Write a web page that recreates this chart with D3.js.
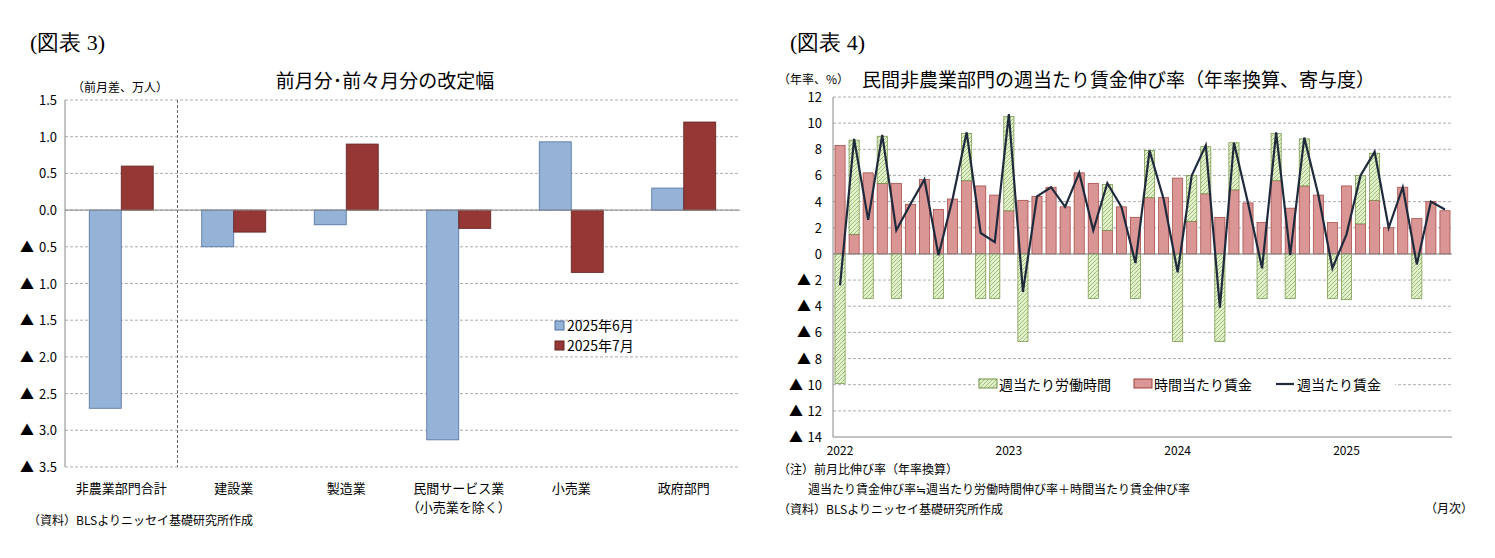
<!DOCTYPE html>
<html><head><meta charset="utf-8">
<script src="https://cdn.jsdelivr.net/npm/d3@7/dist/d3.min.js"></script>
<style>body{margin:0;background:#fff;font-family:"Noto Sans CJK JP",sans-serif}</style>
</head><body><svg id="c" width="1495" height="558"></svg>
<script>
// Left chart data
const leftCats = ["非農業部門合計","建設業","製造業","民間サービス業","小売業","政府部門"];
const leftCats2 = ["","","","（小売業を除く）","",""];
const june = [-2.7,-0.5,-0.2,-3.13,0.93,0.3];
const july = [0.6,-0.3,0.9,-0.25,-0.85,1.2];
const leftTicks = [1.5,1.0,0.5,0.0,-0.5,-1.0,-1.5,-2.0,-2.5,-3.0,-3.5];
// Right chart data (Jan 2022 - Aug 2025)
const months = d3.range(44);
const hourly = [8.3,1.5,6.2,5.4,5.4,3.8,5.7,3.4,4.2,5.6,5.2,4.5,
 3.3,4.1,4.4,5.1,3.6,6.2,5.4,1.8,3.6,2.8,4.3,4.3,
 5.8,2.5,4.6,2.8,4.9,3.9,2.4,5.6,3.5,5.2,4.5,2.4,
 5.2,2.3,4.1,2.0,5.1,2.7,4.0,3.3];
const hours = [-9.9,7.2,-3.4,3.6,-3.4,0,0,-3.4,0,3.6,-3.4,-3.4,
 7.2,-6.7,0,0,0,0,-3.4,3.5,0,-3.4,3.6,0,
 -6.7,3.5,3.6,-6.7,3.6,0,-3.4,3.6,-3.4,3.6,0,-3.4,
 -3.5,3.7,3.6,0,0,-3.4,0,0];
const weekly = [-2.4,8.8,2.6,9.1,1.8,3.8,5.7,-0.1,4.2,9.3,1.6,0.9,
 10.7,-2.9,4.4,5.1,3.6,6.2,1.8,5.4,3.6,-0.7,7.9,4.2,
 -1.4,6.0,8.3,-4.1,8.5,3.9,-1.1,9.3,-0.1,8.9,4.5,-1.1,
 1.5,6.0,7.8,2.0,5.1,-0.8,4.0,3.4];
const yearLabels = [{i:0,t:"2022"},{i:12,t:"2023"},{i:24,t:"2024"},{i:36,t:"2025"}];
const rightTicks = [12,10,8,6,4,2,0,-2,-4,-6,-8,-10,-12,-14];

const svg = d3.select("#c");
const F = "Noto Sans CJK JP";
function txt(x,y,t,o={}){return svg.append("text").attr("x",x).attr("y",y).text(t)
  .attr("font-size",o.s||13).attr("text-anchor",o.a||"start").attr("fill","#000")
  .attr("font-family",o.f||F).attr("font-weight",o.w||"normal");}

const defs = svg.append("defs");
const pat = defs.append("pattern").attr("id","hatch").attr("patternUnits","userSpaceOnUse")
  .attr("width",4).attr("height",4);
pat.append("rect").attr("width",4).attr("height",4).attr("fill","#e3f0cc");
pat.append("path").attr("d","M-1,1 l2,-2 M0,4 l4,-4 M3,5 l2,-2").attr("stroke","#9fc27a").attr("stroke-width",1);

// Headers
txt(30,50,"(図表 3)",{s:22,f:"Liberation Serif, serif"});
txt(790,50,"(図表 4)",{s:22,f:"Liberation Serif, serif"});

// ---------- Left chart ----------
const L = {x0:65,x1:740,y0:100,y1:467};
const ly = d3.scaleLinear().domain([-3.5,1.5]).range([L.y1,L.y0]);
const lx = d3.scaleBand().domain(leftCats).range([L.x0,L.x1]);
const lg = svg.append("g");
leftTicks.forEach(t=>{
  lg.append("line").attr("x1",L.x0).attr("x2",L.x1).attr("y1",ly(t)).attr("y2",ly(t))
    .attr("stroke","#999").attr("stroke-dasharray","3,2").attr("stroke-width",0.8);
  const y = ly(t)+5;
  txt(57,y,Math.abs(t).toFixed(1),{a:"end"});
  if(t<0) txt(20,y,"▲",{s:14});
});
lg.append("line").attr("x1",L.x0).attr("x2",L.x0).attr("y1",L.y0).attr("y2",L.y1).attr("stroke","#888");
lg.append("line").attr("x1",lx(leftCats[1])).attr("x2",lx(leftCats[1])).attr("y1",L.y0).attr("y2",L.y1)
  .attr("stroke","#666").attr("stroke-dasharray","3,2");
const bw = 32;
leftCats.forEach((c,i)=>{
  const cx = lx(c)+lx.bandwidth()/2;
  [[june[i],"#95b3d7","#4f6f9f",-bw],[july[i],"#953735","#632523",0]].forEach(([v,f,s,off])=>{
    lg.append("rect").attr("x",cx+off).attr("width",bw)
      .attr("y",Math.min(ly(v),ly(0))).attr("height",Math.abs(ly(v)-ly(0)))
      .attr("fill",f).attr("stroke",s).attr("stroke-width",0.8);
  });
  txt(cx,493,c,{a:"middle"});
  if(leftCats2[i]) txt(cx,512,leftCats2[i],{a:"middle"});
});
lg.append("line").attr("x1",L.x0).attr("x2",L.x1).attr("y1",ly(0)).attr("y2",ly(0)).attr("stroke","#888");
txt(385,88,"前月分･前々月分の改定幅",{s:19,a:"middle"});
txt(72,92,"（前月差、万人）",{s:12});
txt(28,525,"（資料）BLSよりニッセイ基礎研究所作成",{s:12});
[["2025年6月","#95b3d7","#4f6f9f"],["2025年7月","#953735","#632523"]].forEach(([t,f,s],i)=>{
  lg.append("rect").attr("x",555).attr("y",321+i*20).attr("width",9).attr("height",9).attr("fill",f).attr("stroke",s);
  txt(567,331+i*20,t,{s:14});
});

// ---------- Right chart ----------
const R = {x0:833,x1:1452,y0:97,y1:437};
const ry = d3.scaleLinear().domain([-14,12]).range([R.y1,R.y0]);
const rx = d3.scaleBand().domain(months).range([R.x0,R.x1]).paddingInner(0.28).paddingOuter(0.14);
const rg = svg.append("g");
rightTicks.forEach(t=>{
  if(t!==-14) rg.append("line").attr("x1",R.x0).attr("x2",R.x1).attr("y1",ry(t)).attr("y2",ry(t))
    .attr("stroke","#999").attr("stroke-dasharray","3,2").attr("stroke-width",0.8);
  const y = ry(t)+5;
  txt(822,y,Math.abs(t),{a:"end"});
  if(t<0) txt(t<=-10?789:797,y,"▲",{s:14});
});
rg.append("line").attr("x1",R.x0).attr("x2",R.x0).attr("y1",R.y0).attr("y2",R.y1).attr("stroke","#888");
rg.append("line").attr("x1",R.x0).attr("x2",R.x1).attr("y1",R.y1).attr("y2",R.y1).attr("stroke","#888");
rg.append("rect").attr("x",975).attr("y",372).attr("width",420).attr("height",24).attr("fill","#fff");
months.forEach(i=>{
  const x = rx(i), w = rx.bandwidth();
  const h = hourly[i];
  rg.append("rect").attr("x",x).attr("width",w).attr("y",ry(h)).attr("height",ry(0)-ry(h))
    .attr("fill","#d99694").attr("stroke","#a0403e").attr("stroke-width",0.7);
  const g = hours[i];
  if(g!==0){
    const base = g>0 ? h : 0;
    rg.append("rect").attr("x",x).attr("width",w).attr("y",ry(Math.max(base,base+g)))
      .attr("height",Math.abs(ry(base+g)-ry(base)))
      .attr("fill","url(#hatch)").attr("stroke","#6f8f3f").attr("stroke-width",0.7);
  }
});
rg.append("line").attr("x1",R.x0).attr("x2",R.x1).attr("y1",ry(0)).attr("y2",ry(0)).attr("stroke","#888");
rg.append("path").datum(weekly).attr("fill","none").attr("stroke","#1f2a3c").attr("stroke-width",2.2)
  .attr("d",d3.line().x((d,i)=>rx(i)+rx.bandwidth()/2).y(d=>ry(d)));
yearLabels.forEach(d=>txt(rx(d.i)+rx.bandwidth()/2,455,d.t,{a:"middle",s:12}));
rg.append("rect").attr("x",979).attr("y",379).attr("width",18).attr("height",9).attr("fill","url(#hatch)").attr("stroke","#6f8f3f");
txt(999,390,"週当たり労働時間",{s:14});
rg.append("rect").attr("x",1134).attr("y",379).attr("width",18).attr("height",9).attr("fill","#d99694").attr("stroke","#a0403e");
txt(1154,390,"時間当たり賃金",{s:14});
rg.append("line").attr("x1",1276).attr("x2",1294).attr("y1",384).attr("y2",384).attr("stroke","#1f2a3c").attr("stroke-width",2.2);
txt(1297,390,"週当たり賃金",{s:14});
txt(862,87,"民間非農業部門の週当たり賃金伸び率（年率換算、寄与度）",{s:19});
txt(778,84,"（年率、%）",{s:12});
txt(778,474,"（注）前月比伸び率（年率換算）",{s:12});
txt(808,494,"週当たり賃金伸び率≒週当たり労働時間伸び率＋時間当たり賃金伸び率",{s:12});
txt(778,514,"（資料）BLSよりニッセイ基礎研究所作成",{s:12});
txt(1473,513,"（月次）",{s:12,a:"end"});
</script></body></html>
